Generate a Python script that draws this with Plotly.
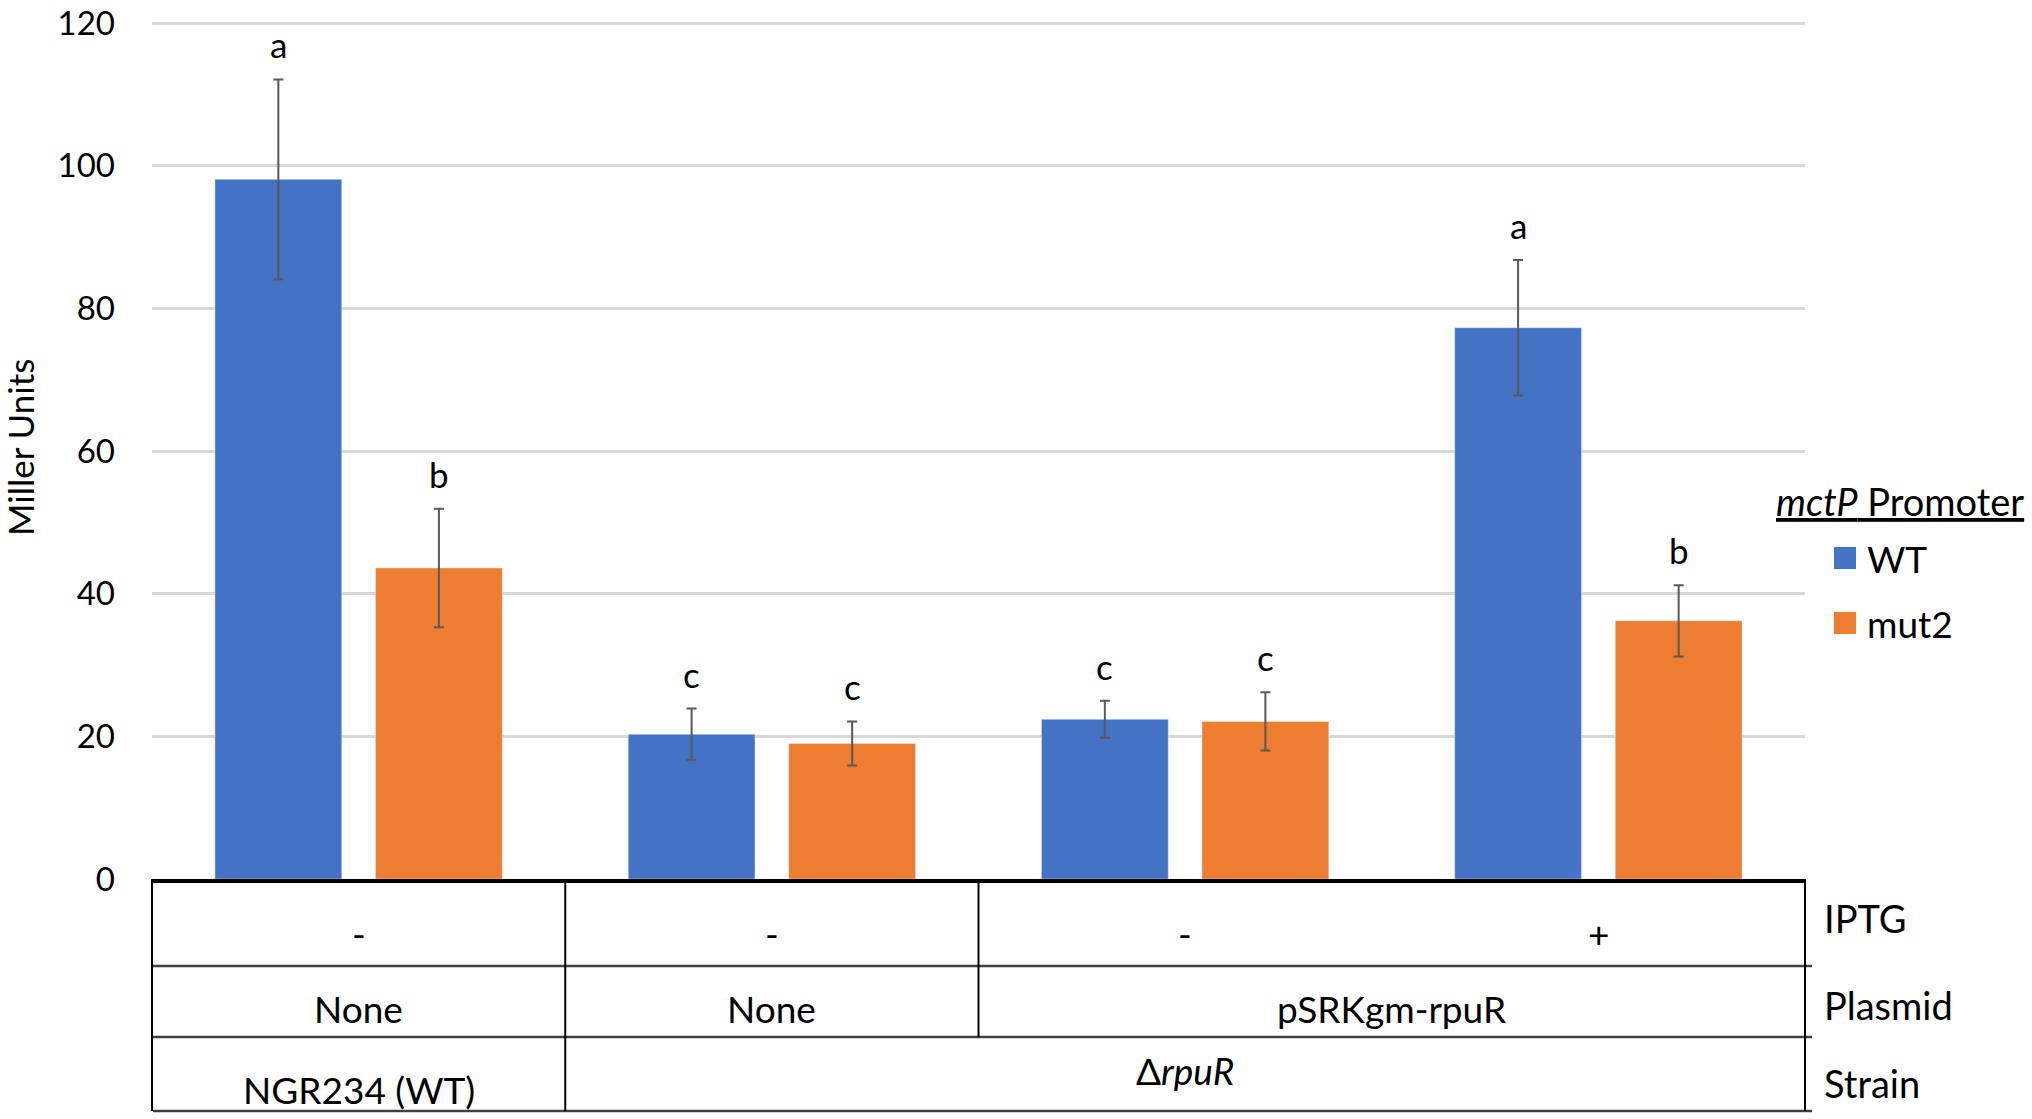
import plotly.graph_objects as go

# data (Miller units, mean and error)
groups = ["NGR234 / None / -", "ΔrpuR / None / -", "ΔrpuR / pSRKgm-rpuR / -", "ΔrpuR / pSRKgm-rpuR / +"]
wt_mean = [98.1, 20.3, 22.4, 77.3]
wt_err = [14.0, 3.6, 2.6, 9.5]
mut2_mean = [43.6, 19.0, 22.1, 36.2]
mut2_err = [8.3, 3.1, 4.1, 5.0]
wt_letters = ["a", "c", "c", "a"]
mut2_letters = ["b", "c", "c", "b"]

# table rows under the axis
iptg = ["-", "-", "-", "+"]
plasmid_cells = [("None", 0, 0), ("None", 1, 1), ("pSRKgm-rpuR", 2, 3)]
strain_cells = [("NGR234 (WT)", 0, 0), ("Δ<i>rpuR</i>", 1, 3)]
row_names = ["IPTG", "Plasmid", "Strain"]
y_ticks = [0, 20, 40, 60, 80, 100, 120]

BLUE = "#4472C4"
ORANGE = "#ED7D31"
FONT = "Lato"

W, H = 2032, 1119
L, R, T, B = 152, 227, 16, 240
Y_TOP = 121
BARGAP = 0.223


def px(X):
    # pixel x -> paper x
    return (X - L) / (W - L - R)


def py(Y):
    # pixel y -> paper y
    return (H - B - Y) / (H - T - B)


def gx(pos):
    # category position -> paper x
    return (pos + 0.5) / len(groups)


def note(x, y, text, size=37, **kw):
    opts = dict(xanchor="center", yanchor="middle")
    opts.update(kw)
    fig.add_annotation(x=x, y=y, xref="paper", yref="paper", text=text, showarrow=False,
                       font=dict(size=size, color="black", family=FONT), **opts)


fig = go.Figure()
err_style = dict(type="data", color="#595959", thickness=2, width=5)
fig.add_trace(go.Bar(x=groups, y=wt_mean, name="WT", marker_color=BLUE,
                     error_y=dict(array=wt_err, **err_style), showlegend=False))
fig.add_trace(go.Bar(x=groups, y=mut2_mean, name="mut2", marker_color=ORANGE,
                     error_y=dict(array=mut2_err, **err_style), showlegend=False))

# significance letters
off = (1 - BARGAP) / 4
for i in range(len(groups)):
    for m, e, lab, d in [(wt_mean[i], wt_err[i], wt_letters[i], -off),
                         (mut2_mean[i], mut2_err[i], mut2_letters[i], off)]:
        fig.add_annotation(x=i + d, y=m + e, xref="x", yref="y", text=lab,
                           showarrow=False, xanchor="center", yanchor="bottom", yshift=12,
                           font=dict(size=35, color="black", family=FONT))

# table below the chart
row_y = [877, 966, 1037, 1111]
shapes = []
for Y in row_y[1:]:
    shapes.append(dict(type="line", xref="paper", yref="paper", x0=px(153), x1=px(1812),
                       y0=py(Y), y1=py(Y), line=dict(color="#404040", width=2.5)))
for gpos, y_bot in [(-0.5, row_y[3]), (0.5, row_y[3]), (1.5, row_y[2]), (3.5, row_y[3])]:
    shapes.append(dict(type="line", xref="paper", yref="paper", x0=gx(gpos), x1=gx(gpos),
                       y0=0, y1=py(y_bot), line=dict(color="black", width=2)))

for i, s in enumerate(iptg):
    note(gx(i), py(933), s)
for s, a, b in plasmid_cells:
    note(gx((a + b) / 2), py(1008), s)
for s, a, b in strain_cells:
    note(gx((a + b) / 2), py(1089 if a == 0 else 1070), s)
for s, Y in zip(row_names, [918, 1005, 1083]):
    note(px(1822), py(Y), s, size=38, xanchor="left")

# y axis title
note(px(20), py(448), "Miller Units", size=35, textangle=-90)

# legend drawn by hand so the swatches are large
note(px(1774), py(501),
     '<span style="text-decoration:underline;font-style:italic">mctP</span>'
     '<span style="text-decoration:underline"> Promoter</span>', size=38, xanchor="left")
for name, col, Y in [("WT", BLUE, 558), ("mut2", ORANGE, 623)]:
    shapes.append(dict(type="rect", xref="paper", yref="paper", x0=px(1834), x1=px(1856),
                       y0=py(Y - 11), y1=py(Y + 11), fillcolor=col, line=dict(width=0)))
    note(px(1865), py(Y), name, size=37, xanchor="left")

fig.update_layout(
    width=W, height=H,
    margin=dict(l=L, r=R, t=T, b=B, autoexpand=False),
    paper_bgcolor="white", plot_bgcolor="white",
    barmode="group", bargap=BARGAP, bargroupgap=0.21,
    shapes=shapes,
    font=dict(family=FONT, color="black"),
    xaxis=dict(showticklabels=False, ticks="", showgrid=False, showline=True,
               linecolor="black", linewidth=3.5, range=[-0.5, 3.5], automargin=False),
    yaxis=dict(range=[0, Y_TOP], tickvals=y_ticks, showgrid=True, automargin=False,
               gridcolor="#d9d9d9", gridwidth=2.5, zeroline=False, showline=False, ticks="",
               ticklabelstandoff=36, ticklabeloverflow="allow",
               tickfont=dict(size=33, color="black", family=FONT)),
)

fig.write_html("out.html", config={"displayModeBar": False},
               post_script="document.body.style.margin='0';"
                           "document.body.style.overflow='hidden';")
